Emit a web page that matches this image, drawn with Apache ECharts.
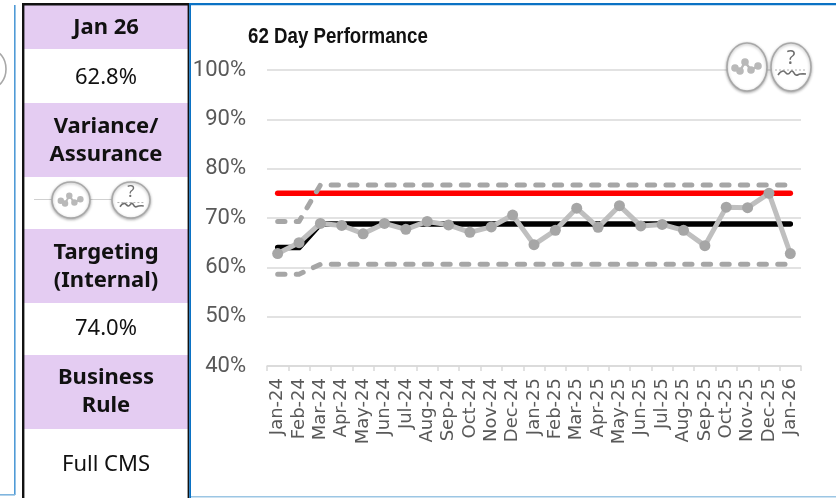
<!DOCTYPE html>
<html>
<head>
<meta charset="utf-8">
<style>html,body{margin:0;padding:0;background:#fff}#chart{width:836px;height:498px}</style>
<script src="https://cdn.jsdelivr.net/npm/echarts@6/dist/echarts.min.js"></script>
</head>
<body>
<div id="chart"></div>
<script>
// 62-day performance run chart with its summary column
const months = ['Jan-24','Feb-24','Mar-24','Apr-24','May-24','Jun-24','Jul-24','Aug-24','Sep-24','Oct-24','Nov-24','Dec-24','Jan-25','Feb-25','Mar-25','Apr-25','May-25','Jun-25','Jul-25','Aug-25','Sep-25','Oct-25','Nov-25','Dec-25','Jan-26'];
const performance = [62.8,65.0,68.9,68.5,66.8,68.9,67.7,69.3,68.6,67.1,68.2,70.6,64.6,67.5,72.0,68.1,72.5,68.4,68.7,67.5,64.4,72.2,72.1,75.0,62.8];
const meanLine = [64,64,68.8,68.8,68.8,68.8,68.8,68.8,68.8,68.8,68.8,68.8,68.8,68.8,68.8,68.8,68.8,68.8,68.8,68.8,68.8,68.8,68.8,68.8,68.8];
const upperLimit = [69.3,69.3,76.7,76.7,76.7,76.7,76.7,76.7,76.7,76.7,76.7,76.7,76.7,76.7,76.7,76.7,76.7,76.7,76.7,76.7,76.7,76.7,76.7,76.7,76.7];
const lowerLimit = [58.6,58.6,60.6,60.6,60.6,60.6,60.6,60.6,60.6,60.6,60.6,60.6,60.6,60.6,60.6,60.6,60.6,60.6,60.6,60.6,60.6,60.6,60.6,60.6,60.6];
const targetLine = [75,75,75,75,75,75,75,75,75,75,75,75,75,75,75,75,75,75,75,75,75,75,75,75,75];

const chartTitle = '62 Day Performance';
const summaryHeads = [['Jan 26'],['Variance/','Assurance'],['Targeting','(Internal)'],['Business','Rule']];
const summaryValues = ['62.8%','74.0%','Full CMS'];

const UI_FONT = '"Noto Sans", sans-serif';
const PURPLE = '#e4ccf2';
const BLUE = '#0b72c4';

function rect(x, y, width, height, fill, z) {
  return { type: 'rect', silent: true, z: z || 1, shape: { x, y, width, height }, style: { fill } };
}
function label(text, x, y, bold) {
  return { type: 'text', silent: true, z: 5, x, y, style: {
    text, fill: '#111', font: (bold ? 'bold ' : '') + '22px ' + UI_FONT, align: 'center', verticalAlign: 'middle'
  }};
}
// The two small SPC status badges: variation on the left, assurance on the right
function badges(cx1, cx2, cy, rx, ry, k) {
  const stroke = '#a8a8a8';
  const ring = cx => ({ type: 'ellipse', silent: true, z: 6, shape: { cx, cy, rx, ry },
    style: { fill: '#fff', stroke, lineWidth: 1.6, shadowBlur: 3, shadowColor: 'rgba(0,0,0,0.3)', shadowOffsetY: 1 } });
  const out = [ring(cx1), ring(cx2)];
  const trace = [[-12,1],[-7,4],[-2,-5],[4,3],[11,-1]];
  trace.forEach(p => out.push({
    type: 'circle', silent: true, z: 7, shape: { cx: cx1 + p[0] * k, cy: cy + p[1] * k, r: 3.8 * k }, style: { fill: '#b9b9b9' }
  }));
  out.push({ type: 'polyline', silent: true, z: 7,
    shape: { points: trace.map(p => [cx1 + p[0] * k, cy + p[1] * k]) },
    style: { stroke: '#b9b9b9', lineWidth: 2.4 * k, fill: null } });
  out.push({ type: 'polyline', silent: true, z: 7,
    shape: { points: [[-16,3],[16,3]].map(p => [cx2 + p[0] * k, cy + p[1] * k]) },
    style: { stroke: '#b0b0b0', lineWidth: 1, lineDash: [2, 2], fill: null } });
  out.push({ type: 'polyline', silent: true, z: 7,
    shape: { smooth: 0.5, points: [[-13,8],[-8,4],[-3,7],[1,4],[5,8],[9,7],[15,7]].map(p => [cx2 + p[0] * k, cy + p[1] * k]) },
    style: { stroke: '#6f6f6f', lineWidth: 1.6, fill: null } });
  out.push({ type: 'text', silent: true, z: 7, x: cx2, y: cy - 9 * k, style: {
    text: '?', fill: '#6f6f6f', font: Math.round(20 * k) + 'px ' + UI_FONT, align: 'center', verticalAlign: 'middle' } });
  return out;
}

const panel = [
  // neighbouring panel edge on the far left
  rect(14, 5, 1.6, 490, '#4f9ad6'),
  rect(0, 494, 15, 1.6, '#7fb5de'),
  { type: 'ellipse', silent: true, z: 2, shape: { cx: -9, cy: 69, rx: 15, ry: 19 },
    style: { fill: '#fff', stroke: '#a8a8a8', lineWidth: 1.6 } },

  // summary column bands
  rect(24, 5, 164, 44, PURPLE),
  rect(24, 103, 164, 74, PURPLE),
  rect(24, 229, 164, 74, PURPLE),
  rect(24, 355, 164, 74, PURPLE),

  label(summaryHeads[0][0], 106, 28, true),
  label(summaryValues[0], 106, 78, false),
  label(summaryHeads[1][0], 106, 127, true),
  label(summaryHeads[1][1], 106, 155, true),
  label(summaryHeads[2][0], 106, 253, true),
  label(summaryHeads[2][1], 106, 281, true),
  label(summaryValues[1], 106, 329, false),
  label(summaryHeads[3][0], 106, 378, true),
  label(summaryHeads[3][1], 106, 406, true),
  label(summaryValues[2], 106, 465, false),

  // summary column and chart panel frame
  rect(22, 3, 167, 2.4, '#111', 8),
  rect(22, 3, 2.4, 495, '#111', 8),
  rect(187.6, 3, 1.6, 495, '#111', 8),
  rect(189.2, 3, 1.8, 495, BLUE, 8),
  rect(189, 3, 647, 2.2, BLUE, 8),
  rect(191, 496, 645, 1.4, '#9cc6e4', 8),

  // title, condensed to the width of a narrow bold face
  { type: 'text', silent: true, z: 5, x: 248, y: 37, scaleX: 0.85, style: {
    text: chartTitle, fill: '#111', font: 'bold 22px "Liberation Sans", sans-serif',
    align: 'left', verticalAlign: 'middle' } },

  // badge connector inside the summary column
  rect(34, 199, 78, 1, '#d0d0d0', 5)
].concat(badges(71, 131, 200, 19, 18, 0.85), badges(747, 791, 67, 20, 24, 1));

const chart = echarts.init(document.getElementById('chart'), null, { renderer: 'canvas' });
const plainLine = (name, data, color, width, z) => ({
  name, type: 'line', data, z, symbol: 'none', silent: true, animation: false,
  lineStyle: { color, width, cap: 'round', join: 'round' }
});
const dashedLine = (name, data) => ({
  name, type: 'line', data, z: 4, symbol: 'none', silent: true, animation: false,
  lineStyle: { color: '#a6a6a6', width: 5, type: [7.3, 11.3], cap: 'round', join: 'round' }
});

chart.setOption({
  animation: false,
  backgroundColor: '#fff',
  graphic: { elements: panel },
  grid: { left: 267, top: 70, width: 534, height: 296, containLabel: false },
  xAxis: {
    type: 'category',
    data: months,
    boundaryGap: true,
    axisLine: { lineStyle: { color: '#d9d9d9', width: 1.5 } },
    axisTick: { show: true, alignWithLabel: false, length: 5, lineStyle: { color: '#d9d9d9', width: 1.5 } },
    axisLabel: { rotate: 90, interval: 0, margin: 12, color: '#595959', fontSize: 18, fontFamily: 'DejaVu Sans' }
  },
  yAxis: {
    type: 'value', min: 40, max: 100, interval: 10,
    axisLine: { show: false }, axisTick: { show: false },
    splitLine: { lineStyle: { color: '#d9d9d9', width: 1.5 } },
    axisLabel: { margin: 21, color: '#595959', fontSize: 22, fontFamily: 'Roboto',
      formatter: v => v + '%' }
  },
  series: [
    plainLine('Mean', meanLine, '#000', 5.5, 2),
    plainLine('Target', targetLine, '#ff0000', 5.5, 3),
    dashedLine('Upper limit', upperLimit),
    dashedLine('Lower limit', lowerLimit),
    { name: '62 Day Performance', type: 'line', data: performance, z: 5, silent: true, animation: false,
      symbol: 'circle', symbolSize: 11,
      itemStyle: { color: '#a6a6a6' },
      lineStyle: { color: '#bfbfbf', width: 5, join: 'round' } }
  ]
});
</script>
</body>
</html>
